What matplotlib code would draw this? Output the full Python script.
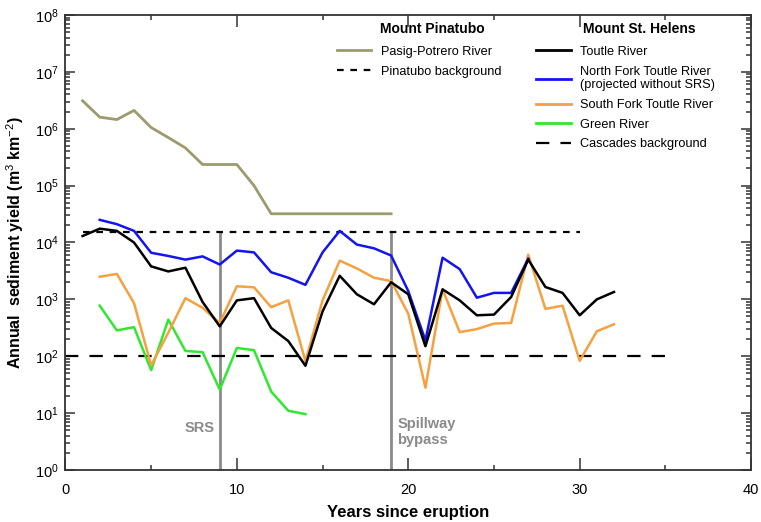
import numpy as np
import matplotlib
matplotlib.use("Agg")
import matplotlib.pyplot as plt
from matplotlib.lines import Line2D
from matplotlib.ticker import MultipleLocator

plt.rcParams['font.family'] = ['Liberation Sans', 'DejaVu Sans']
plt.rcParams['mathtext.fontset'] = 'custom'
plt.rcParams['mathtext.rm'] = 'Liberation Sans'
plt.rcParams['mathtext.it'] = 'Liberation Sans:italic'
plt.rcParams['mathtext.bf'] = 'Liberation Sans:bold'

# Mount Pinatubo
pasig_years = list(range(1, 20))
pasig = [3.1e6, 1.6e6, 1.45e6, 2.1e6, 1.05e6, 7e5, 4.6e5, 2.35e5, 2.35e5, 2.35e5,
         1.0e5, 3.2e4, 3.2e4, 3.2e4, 3.2e4, 3.2e4, 3.2e4, 3.2e4, 3.2e4]
pinatubo_bg = 1.5e4
pinatubo_bg_span = [1, 30]

# Mount St. Helens
toutle_years = list(range(1, 33))
toutle = [1.3e4, 1.75e4, 1.6e4, 1.0e4, 3.8e3, 3.1e3, 3.6e3, 900, 335, 960,
          1050, 315, 185, 68, 615, 2.6e3, 1.23e3, 820, 2.0e3, 1.23e3,
          150, 1.5e3, 960, 525, 540, 1.1e3, 5.0e3, 1.65e3, 1.3e3, 525,
          1.0e3, 1.35e3]
nf_years = list(range(2, 28))
north_fork = [2.5e4, 2.1e4, 1.6e4, 6.6e3, 5.8e3, 5.0e3, 5.7e3, 4.1e3, 7.2e3, 6.7e3,
              3.0e3, 2.4e3, 1.8e3, 6.7e3, 1.6e4, 9.2e3, 7.9e3, 5.9e3, 1.4e3, 190,
              5.4e3, 3.4e3, 1.07e3, 1.3e3, 1.3e3, 5.2e3]
sf_years = list(range(2, 33))
south_fork = [2.5e3, 2.8e3, 860, 69, 260, 1.05e3, 710, 385, 1.7e3, 1.63e3,
              730, 960, 82, 960, 4.8e3, 3.5e3, 2.4e3, 2.1e3, 560, 28,
              1.5e3, 265, 300, 375, 385, 6.1e3, 680, 775, 83, 275, 365]
green_years = list(range(2, 15))
green = [775, 285, 325, 57, 440, 124, 118, 26, 140, 128, 24, 11, 9.6]
cascades_bg = 100
cascades_bg_span = [0, 35]

events = [9, 19]
event_labels = ["SRS", "Spillway\nbypass"]

c_pasig = '#9c9a6e'
c_blue = '#1414f0'
c_orange = '#f7a040'
c_green = '#30e830'
c_gray = '#8a8a8a'
c_axis = '#333333'

fig = plt.figure(figsize=(7.61, 5.22), dpi=100)
ax = fig.add_axes([0.086, 0.0996, 0.901, 0.8717])

# SRS and spillway markers
for x in events:
    ax.plot([x, x], [1, pinatubo_bg], color=c_gray, lw=2, zorder=1)
ax.text(events[0] - 0.3, 5.5, event_labels[0], color=c_gray, fontsize=10.5,
        fontweight='bold', ha='right', va='center')
ax.text(events[1] + 0.35, 4.7, event_labels[1], color=c_gray, fontsize=10.5,
        fontweight='bold', ha='left', va='center', linespacing=1.15)

ax.plot(pinatubo_bg_span, [pinatubo_bg] * 2, color='black', lw=1.6, ls=(0, (3, 3)), zorder=2)
ax.plot(cascades_bg_span, [cascades_bg] * 2, color='black', lw=1.6, ls=(0, (6, 5)), zorder=2)

ax.plot(pasig_years, pasig, color=c_pasig, lw=2, zorder=3)
ax.plot(green_years, green, color=c_green, lw=1.8, zorder=3)
ax.plot(sf_years, south_fork, color=c_orange, lw=1.8, zorder=4)
ax.plot(nf_years, north_fork, color=c_blue, lw=1.8, zorder=5)
ax.plot(toutle_years, toutle, color='black', lw=1.8, zorder=6)

ax.set_yscale('log')
ax.set_xlim(0, 40)
ax.set_ylim(1, 1e8)
ax.set_xticks([0, 10, 20, 30, 40])
ax.xaxis.set_minor_locator(MultipleLocator(5))
ax.set_yticks([10.0 ** k for k in range(9)])
ax.tick_params(which='both', direction='in', top=True, right=True, labelsize=10.5,
               color=c_axis, width=1.1)
ax.tick_params(axis='x', which='major', length=8.5, pad=9)
ax.tick_params(axis='x', which='minor', length=3.6)
ax.tick_params(axis='y', which='major', length=7, pad=5)
ax.tick_params(axis='y', which='minor', length=3.6)
for s in ax.spines.values():
    s.set_linewidth(1.3)
    s.set_color(c_axis)
ax.set_xlabel('Years since eruption', fontsize=12, fontweight='bold', labelpad=6)
ax.set_ylabel('Annual  sediment yield (m$^3$ km$^{-2}$)', fontsize=11.5,
              fontweight='bold', labelpad=6)

h1 = [Line2D([], [], color=c_pasig, lw=2),
      Line2D([], [], color='black', lw=1.6, ls=(0, (3, 3)))]
leg1 = ax.legend(h1, ['Pasig-Potrero River', 'Pinatubo background'],
                 loc='upper left', bbox_to_anchor=(0.396, 0.932), frameon=False,
                 fontsize=9.2, handlelength=2.7, handletextpad=0.75, labelspacing=0.62,
                 borderpad=0, borderaxespad=0)
ax.add_artist(leg1)
h2 = [Line2D([], [], color='black', lw=2),
      Line2D([], [], color=c_blue, lw=2),
      Line2D([], [], color=c_orange, lw=2),
      Line2D([], [], color=c_green, lw=2),
      Line2D([], [], color='black', lw=1.6, ls=(0, (6, 5)))]
ax.legend(h2, ['Toutle River', 'North Fork Toutle River\n(projected without SRS)',
               'South Fork Toutle River', 'Green River', 'Cascades background'],
          loc='upper left', bbox_to_anchor=(0.6864, 0.932), frameon=False,
          fontsize=9.2, handlelength=2.7, handletextpad=0.75, labelspacing=0.6,
          borderpad=0, borderaxespad=0)
fig.text(380 / 761, 1 - 29 / 522, 'Mount Pinatubo', fontsize=10, fontweight='bold', va='center')
fig.text(583 / 761, 1 - 29 / 522, 'Mount St. Helens', fontsize=10, fontweight='bold', va='center')

fig.savefig('out.png', dpi=100)
